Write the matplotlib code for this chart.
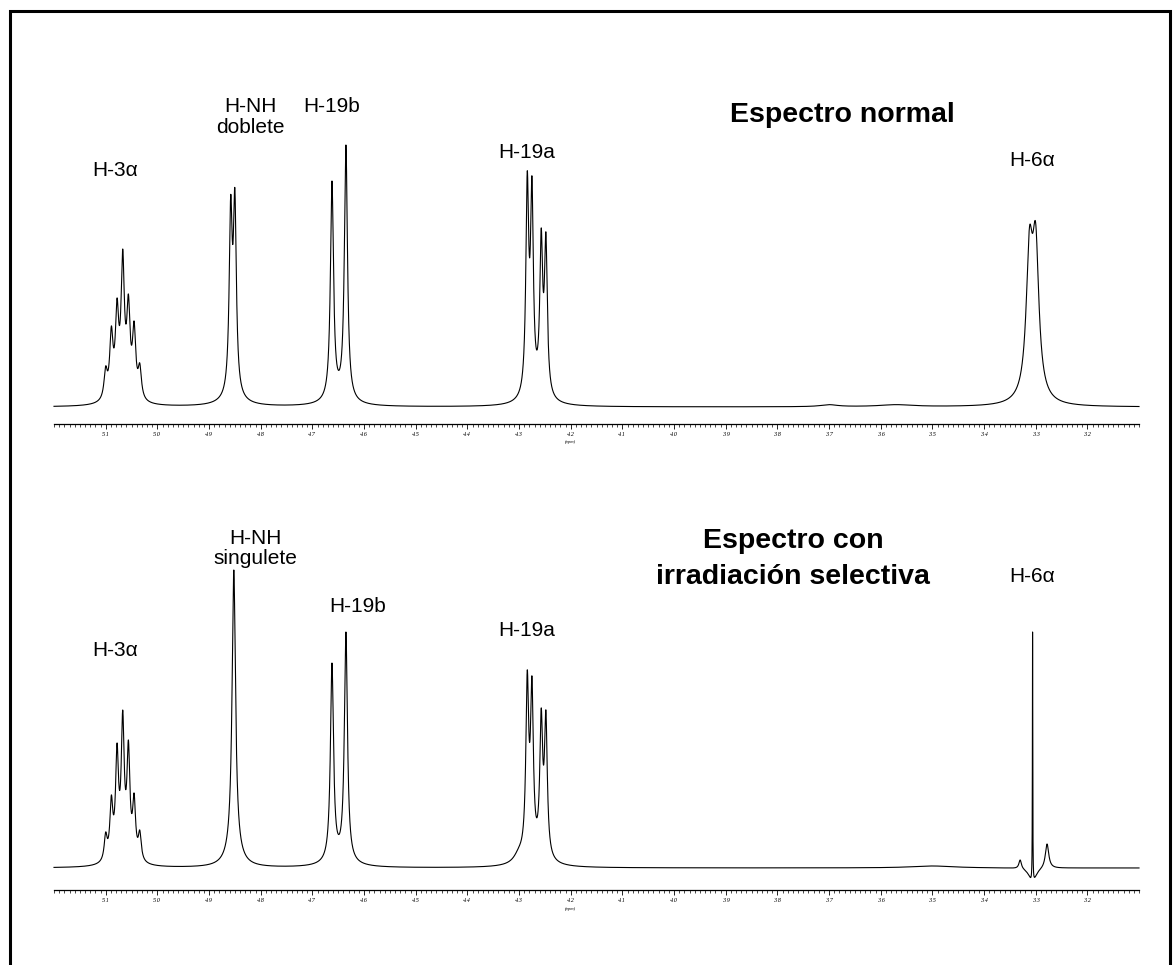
import numpy as np
import matplotlib
matplotlib.use("Agg")
import matplotlib.pyplot as plt
from matplotlib.lines import Line2D
from matplotlib.ticker import FixedLocator, MultipleLocator, FormatStrFormatter

W, H, DPI = 1173, 965, 100

# ---- spectrum 1: normal 1H spectrum (ppm, peak height, half width) ----
top_line_ppm = [5.100, 5.089, 5.078, 5.067, 5.056, 5.045, 5.034,
                4.858, 4.850,
                4.662, 4.635,
                4.284, 4.275, 4.257, 4.248,
                3.312, 3.300]
top_line_height = [41, 81, 109, 158, 113, 86, 44,
                   212, 219,
                   226, 262,
                   236, 231, 179, 175,
                   180, 184]
top_line_hwhm = [0.0038] * 7 + [0.0035] * 2 + [0.0036] * 2 + [0.0033] * 4 + [0.0075] * 2

top_broad_ppm = [5.067, 4.854, 4.648, 4.266, 3.306, 3.70, 3.57]
top_broad_amp = [7, 5, 5, 5, 4, 2, 2]
top_broad_hwhm = [0.02, 0.03, 0.03, 0.03, 0.03, 0.02, 0.04]

# ---- spectrum 2: with selective irradiation ----
bot_line_ppm = [5.100, 5.089, 5.078, 5.067, 5.056, 5.045, 5.034,
                4.852,
                4.662, 4.635,
                4.284, 4.275, 4.257, 4.248,
                3.330, 3.306, 3.278]
bot_line_height = [36, 73, 125, 158, 128, 75, 38,
                   298,
                   205, 236,
                   198, 192, 160, 158,
                   8, 236, 24]
bot_line_hwhm = [0.0034] * 7 + [0.0040] + [0.0036] * 2 + [0.0033] * 4 + [0.003, 0.0004, 0.004]

bot_broad_ppm = [5.067, 4.852, 4.648, 4.266, 4.30, 3.306, 3.50]
bot_broad_amp = [7, 14, 5, 5, 8, -16, 2]
bot_broad_hwhm = [0.02, 0.015, 0.03, 0.03, 0.012, 0.008, 0.05]

tick_labels = ["5.1", "5.0", "4.9", "4.8", "4.7", "4.6", "4.5", "4.4", "4.3", "4.2",
               "4.1", "4.0", "3.9", "3.8", "3.7", "3.6", "3.5", "3.4", "3.3", "3.2"]

PPM_LEFT, PPM_RIGHT = 5.2, 3.1


def lorentz(x, c, w):
    return 1.0 / (1.0 + ((x - c) / w) ** 2)


def build_spectrum(x, ppm, height, hwhm, b_ppm, b_amp, b_hwhm):
    ppm = np.asarray(ppm, float)
    height = np.asarray(height, float)
    hwhm = np.asarray(hwhm, float)
    broad_at = lambda q: sum(a * lorentz(q, c, w) for c, a, w in zip(b_ppm, b_amp, b_hwhm))
    # amplitudes chosen so the summed trace reaches each listed height at its line position
    M = lorentz(ppm[:, None], ppm[None, :], hwhm[None, :])
    amps = np.linalg.solve(M, height - broad_at(ppm))
    y = broad_at(x)
    for c, a, w in zip(ppm, amps, hwhm):
        y = y + a * lorentz(x, c, w)
    return y


x = np.linspace(PPM_LEFT, PPM_RIGHT, 42001)
y_top = build_spectrum(x, top_line_ppm, top_line_height, top_line_hwhm,
                       top_broad_ppm, top_broad_amp, top_broad_hwhm)
y_bot = build_spectrum(x, bot_line_ppm, bot_line_height, bot_line_hwhm,
                       bot_broad_ppm, bot_broad_amp, bot_broad_hwhm)

fig = plt.figure(figsize=(W / DPI, H / DPI), dpi=DPI)
fig.patch.set_facecolor("white")


def px_axes(left, right, top, bottom):
    return fig.add_axes([left / W, 1 - bottom / H, (right - left) / W, (bottom - top) / H])


def style_axis(ax, ylim):
    ax.set_xlim(PPM_LEFT, PPM_RIGHT)
    ax.set_ylim(*ylim)
    for s in ("left", "right", "top"):
        ax.spines[s].set_visible(False)
    ax.spines["bottom"].set_linewidth(0.9)
    ax.set_yticks([])
    ax.xaxis.set_major_locator(FixedLocator([float(t) for t in tick_labels]))
    ax.xaxis.set_minor_locator(MultipleLocator(0.01))
    ax.xaxis.set_major_formatter(FormatStrFormatter("%.1f"))
    ax.tick_params(axis="x", which="major", direction="out", length=3.5, width=0.6, pad=2.5,
                   labelsize=4.5)
    ax.tick_params(axis="x", which="minor", direction="out", length=2.5, width=0.5)
    for lab in ax.get_xticklabels():
        lab.set_fontfamily("Liberation Serif")
        lab.set_fontstyle("italic")
    ax.text(4.2, -0.055, "(ppm)", transform=ax.get_xaxis_transform(), ha="center", va="center",
            fontsize=3.3, family="Liberation Serif", style="italic")
    ax.patch.set_alpha(0)


ax1 = px_axes(54, 1139, 100, 424)
style_axis(ax1, (-17, 307))
ax1.plot(x, y_top, color="black", lw=0.8, clip_on=False)

ax2 = px_axes(54, 1139, 540, 890)
style_axis(ax2, (-22, 328))
ax2.plot(x, y_bot, color="black", lw=0.8, clip_on=False)

LBL = dict(family=["Liberation Sans", "DejaVu Sans"], fontsize=15, ha="center", va="center")
BOLD = dict(family=["Liberation Sans", "DejaVu Sans"], fontsize=20.5, fontweight="bold",
            ha="center", va="center")


def ftext(px, py, s, **kw):
    fig.text(px / W, 1 - py / H, s, **kw)


# labels, normal spectrum
ftext(115, 170, "H-3α", **LBL)
ftext(250, 107, "H-NH", **LBL)
ftext(250, 128, "doblete", **LBL)
ftext(332, 107, "H-19b", **LBL)
ftext(527, 152, "H-19a", **LBL)
ftext(842, 115, "Espectro normal", **BOLD)
ftext(1032, 160, "H-6α", **LBL)

# labels, irradiated spectrum
ftext(115, 650, "H-3α", **LBL)
ftext(255, 538, "H-NH", **LBL)
ftext(255, 559, "singulete", **LBL)
ftext(358, 606, "H-19b", **LBL)
ftext(527, 630, "H-19a", **LBL)
ftext(793, 541, "Espectro con", **BOLD)
ftext(793, 577, "irradiación selectiva", **BOLD)
ftext(1032, 577, "H-6α", **LBL)

# outer frame
frame_x = [9.5 / W, 9.5 / W, 1170 / W, 1170 / W]
frame_y = [0.0, 1 - 11 / H, 1 - 11 / H, 0.0]
fig.add_artist(Line2D(frame_x, frame_y, transform=fig.transFigure, color="black", lw=2.2,
                      solid_joinstyle="miter"))

fig.savefig("out.png", dpi=DPI, facecolor="white")
